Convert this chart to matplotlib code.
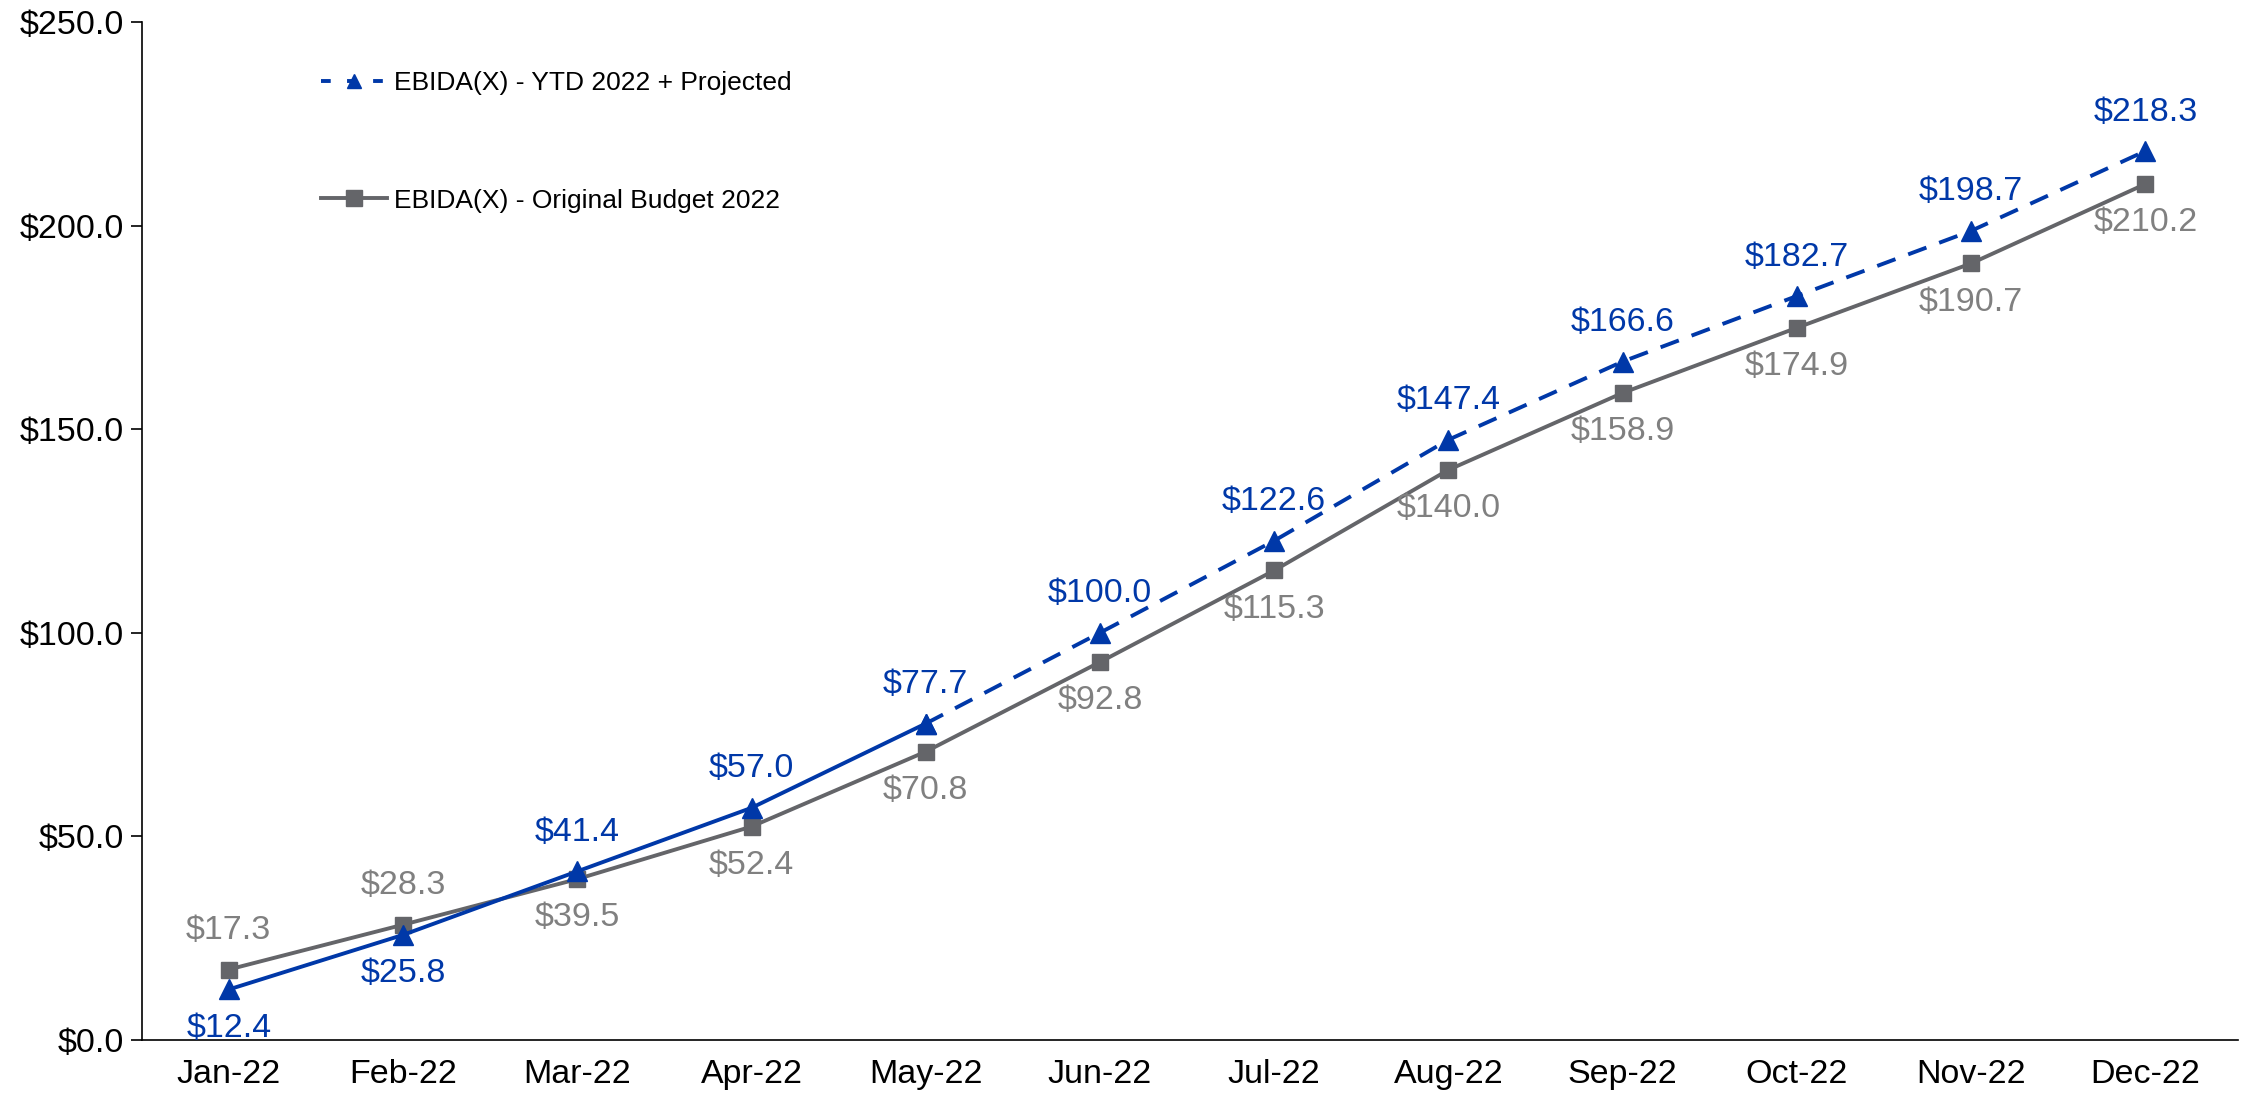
import matplotlib.pyplot as plt
import numpy as np
from matplotlib.lines import Line2D

plt.rcParams['font.family'] = ['Liberation Sans', 'DejaVu Sans']

months = ['Jan-22', 'Feb-22', 'Mar-22', 'Apr-22', 'May-22', 'Jun-22',
          'Jul-22', 'Aug-22', 'Sep-22', 'Oct-22', 'Nov-22', 'Dec-22']
ytdProjected = [12.4, 25.8, 41.4, 57.0, 77.7, 100.0, 122.6, 147.4, 166.6, 182.7, 198.7, 218.3]
originalBudget = [17.3, 28.3, 39.5, 52.4, 70.8, 92.8, 115.3, 140.0, 158.9, 174.9, 190.7, 210.2]
actualMonths = 5  # Jan-May are actuals (solid), rest projected (dashed)

blue = '#0038A8'
gray = '#646569'
grayText = '#808080'

fig = plt.figure(figsize=(22.49, 10.97), dpi=100)
ax = fig.add_axes([0.063, 0.052, 0.932, 0.928])

x = np.arange(len(months))

# budget line
ax.plot(x, originalBudget, color=gray, linewidth=2.8, marker='s', markersize=11, zorder=3)

# YTD actuals solid, projection dashed
ax.plot(x[:actualMonths], ytdProjected[:actualMonths], color=blue, linewidth=2.8,
        marker='^', markersize=14, zorder=4)
ax.plot(x[actualMonths - 1:], ytdProjected[actualMonths - 1:], color=blue, linewidth=2.8,
        linestyle=(0, (5, 3.5)), marker='^', markersize=14, zorder=4)

# data labels
blueBelow = [True, True] + [False] * 10
for i, v in enumerate(ytdProjected):
    off = -28 if blueBelow[i] else 28
    ax.annotate(f'${v:.1f}', (x[i], v), xytext=(0, off), textcoords='offset points',
                ha='center', va='center', fontsize=24.5, color=blue)
for i, v in enumerate(originalBudget):
    off = 28 if blueBelow[i] else -28
    ax.annotate(f'${v:.1f}', (x[i], v), xytext=(0, off), textcoords='offset points',
                ha='center', va='center', fontsize=24.5, color=grayText)

ax.set_xlim(-0.5, 11.53)
ax.set_ylim(0, 250)
ax.set_yticks(np.arange(0, 251, 50))
ax.set_yticklabels([f'${t:.1f}' for t in np.arange(0, 251, 50)])
ax.set_xticks(x)
ax.set_xticklabels(months)
ax.tick_params(axis='y', labelsize=24.5, length=8, width=1.2, pad=5)
ax.tick_params(axis='x', labelsize=24.5, length=0, pad=14)
ax.spines['top'].set_visible(False)
ax.spines['right'].set_visible(False)
for s in ['left', 'bottom']:
    ax.spines[s].set_linewidth(1.2)

handles = [
    Line2D([], [], color=blue, linewidth=2.8, linestyle=(0, (2.5, 4.2)), marker='^', markersize=10),
    Line2D([], [], color=gray, linewidth=2.8, marker='s', markersize=11),
]
labels = ['EBIDA(X) - YTD 2022 + Projected', 'EBIDA(X) - Original Budget 2022']
fig.legend(handles, labels, loc='upper left', bbox_to_anchor=(321 / 2249, 1 - 71 / 1097),
           bbox_transform=fig.transFigure, frameon=False, fontsize=19,
           borderpad=0, borderaxespad=0, labelspacing=3.55, handlelength=2.5,
           handletextpad=0.25)

fig.savefig('out.png', dpi=100)
